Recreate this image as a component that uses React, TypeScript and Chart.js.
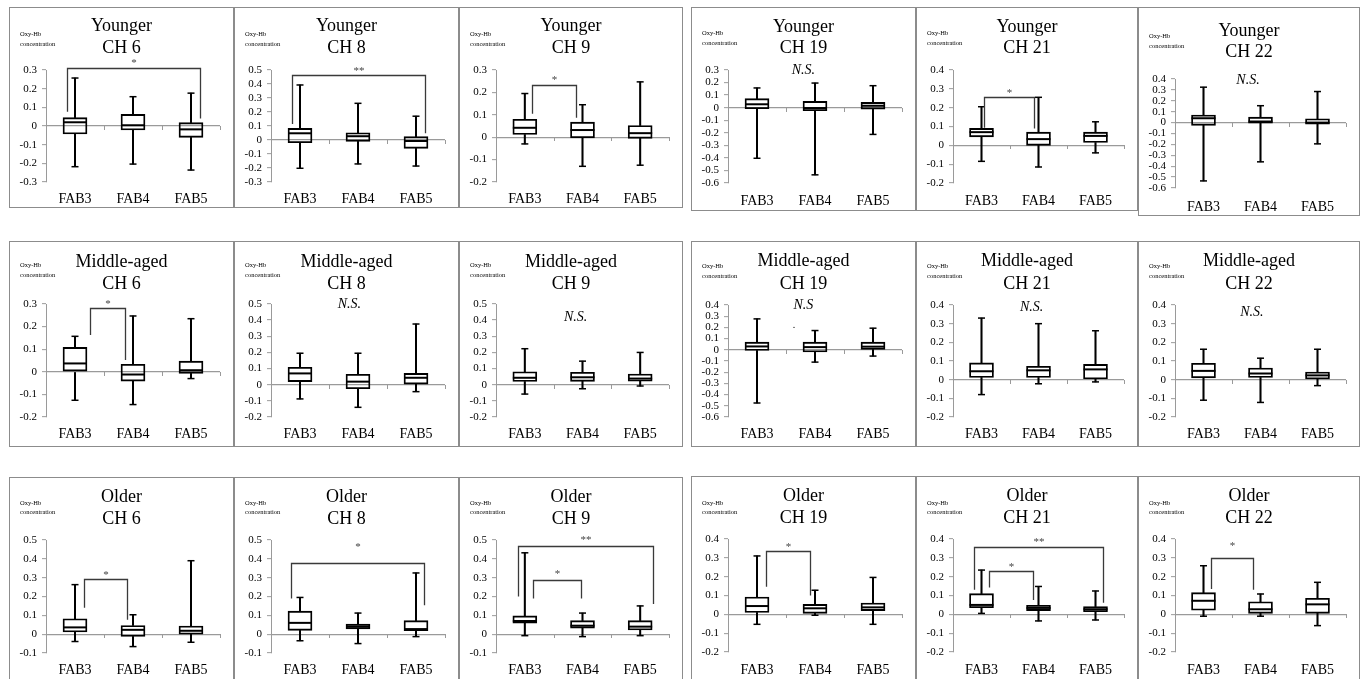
import React, { useEffect, useRef } from 'react';
import { Chart, registerables } from 'chart.js';

Chart.register(...registerables);

const FONT = '"Liberation Serif", "Times New Roman", serif';
const AXIS_GRAY = '#9a9a9a';

// ---------------- data ----------------
const categories = ['FAB3', 'FAB4', 'FAB5'];
const groupNames = ['Younger', 'Middle-aged', 'Older'];
const channelNames = ['CH 6', 'CH 8', 'CH 9', 'CH 19', 'CH 21', 'CH 22'];
const yAxisNote = ['Oxy-Hb', 'concentration'];

// five-number summaries [min, q1, median, q3, max] for FAB3, FAB4, FAB5
const youngerCH6 = [[-0.218, -0.043, 0.02, 0.045, 0.257], [-0.204, -0.021, 0.004, 0.062, 0.157], [-0.236, -0.061, -0.018, 0.018, 0.176]];
const youngerCH8 = [[-0.202, -0.019, 0.048, 0.083, 0.393], [-0.171, -0.01, 0.027, 0.052, 0.262], [-0.186, -0.06, -0.007, 0.024, 0.17]];
const youngerCH9 = [[-0.03, 0.012, 0.042, 0.08, 0.195], [-0.13, -0.003, 0.032, 0.067, 0.145], [-0.125, -0.005, 0.018, 0.052, 0.247]];
const youngerCH19 = [[-0.403, -0.008, 0.027, 0.072, 0.157], [-0.535, -0.024, -0.003, 0.05, 0.196], [-0.213, -0.011, 0.015, 0.042, 0.175]];
const youngerCH21 = [[-0.085, 0.045, 0.07, 0.09, 0.205], [-0.115, 0.0, 0.033, 0.07, 0.255], [-0.04, 0.015, 0.05, 0.07, 0.125]];
const youngerCH22 = [[-0.535, -0.025, 0.04, 0.07, 0.325], [-0.36, -0.005, 0.01, 0.05, 0.155], [-0.195, -0.015, 0.0, 0.035, 0.285]];

const middleCH6 = [[-0.126, 0.0, 0.037, 0.108, 0.157], [-0.145, -0.041, -0.012, 0.033, 0.247], [-0.03, -0.007, 0.007, 0.047, 0.235]];
const middleCH8 = [[-0.088, 0.019, 0.07, 0.108, 0.195], [-0.14, -0.025, 0.019, 0.065, 0.195], [-0.043, 0.004, 0.043, 0.07, 0.376]];
const middleCH9 = [[-0.058, 0.02, 0.043, 0.08, 0.223], [-0.025, 0.021, 0.046, 0.077, 0.146], [-0.008, 0.022, 0.038, 0.066, 0.2]];
const middleCH19 = [[-0.475, -0.006, 0.03, 0.068, 0.276], [-0.11, -0.02, 0.024, 0.068, 0.172], [-0.056, 0.003, 0.028, 0.068, 0.193]];
const middleCH21 = [[-0.08, 0.012, 0.045, 0.09, 0.33], [-0.022, 0.012, 0.05, 0.072, 0.3], [-0.012, 0.004, 0.055, 0.082, 0.262]];
const middleCH22 = [[-0.11, 0.01, 0.047, 0.088, 0.163], [-0.122, 0.012, 0.033, 0.062, 0.115], [-0.032, 0.004, 0.023, 0.041, 0.163]];

const olderCH6 = [[-0.039, 0.012, 0.036, 0.082, 0.263], [-0.066, -0.012, 0.023, 0.046, 0.103], [-0.043, 0.0, 0.018, 0.043, 0.39]];
const olderCH8 = [[-0.035, 0.02, 0.06, 0.122, 0.195], [-0.05, 0.028, 0.04, 0.053, 0.112], [-0.013, 0.018, 0.027, 0.072, 0.325]];
const olderCH9 = [[-0.008, 0.058, 0.07, 0.097, 0.432], [-0.013, 0.032, 0.045, 0.072, 0.112], [-0.008, 0.022, 0.04, 0.072, 0.15]];
const olderCH19 = [[-0.053, 0.01, 0.044, 0.092, 0.31], [-0.005, 0.005, 0.032, 0.053, 0.128], [-0.053, 0.02, 0.037, 0.06, 0.196]];
const olderCH21 = [[0.005, 0.035, 0.05, 0.11, 0.235], [-0.035, 0.02, 0.034, 0.048, 0.148], [-0.03, 0.014, 0.027, 0.041, 0.124]];
const olderCH22 = [[-0.01, 0.022, 0.072, 0.115, 0.258], [-0.01, 0.005, 0.027, 0.067, 0.108], [-0.06, 0.005, 0.053, 0.085, 0.17]];

// y-axis ranges [min, max] per channel
const youngerRanges = [[-0.3, 0.3], [-0.3, 0.5], [-0.2, 0.3], [-0.6, 0.3], [-0.2, 0.4], [-0.6, 0.4]];
const middleRanges = [[-0.2, 0.3], [-0.2, 0.5], [-0.2, 0.5], [-0.6, 0.4], [-0.2, 0.4], [-0.2, 0.4]];
const olderRanges = [[-0.1, 0.5], [-0.1, 0.5], [-0.1, 0.5], [-0.2, 0.4], [-0.2, 0.4], [-0.2, 0.4]];

// significance brackets: [fromCat, toCat, barLevel, leftLegEnd, rightLegEnd, mark, markLevel]
type Bracket = [number, number, number, number, number, string, number];
const youngerSig: Bracket[][] = [
  [[-0.13, 2.15, 0.31, 0.077, 0.04, '*', 0.354]],
  [[-0.13, 2.15, 0.464, 0.114, 0.048, '**', 0.512]],
  [[0.12, 0.88, 0.233, 0.105, 0.087, '*', 0.267]],
  [],
  [[0.04, 0.92, 0.255, 0.093, 0.09, '*', 0.296]],
  [],
];
const middleSig: Bracket[][] = [
  [[0.25, 0.86, 0.284, 0.163, 0.052, '*', 0.315]],
  [], [], [], [], [],
];
const olderSig: Bracket[][] = [
  [[0.16, 0.89, 0.295, 0.14, 0.077, '*', 0.33]],
  [[-0.15, 2.14, 0.378, 0.19, 0.153, '*', 0.48]],
  [[-0.12, 2.22, 0.47, 0.2, 0.16, '**', 0.517], [0.14, 0.97, 0.29, 0.19, 0.19, '*', 0.334]],
  [[0.15, 0.91, 0.336, 0.147, 0.1, '*', 0.372]],
  [[-0.13, 2.14, 0.355, 0.13, 0.062, '**', 0.398], [0.13, 0.91, 0.23, 0.143, 0.076, '*', 0.265]],
  [[0.14, 0.87, 0.3, 0.135, 0.13, '*', 0.38]],
];

// non-significance notes: [category position, level, text]
type Note = [number, number, string];
const youngerNotes: Note[][] = [[], [], [], [[0.8, 0.3, 'N.S.']], [], [[0.78, 0.39, 'N.S.']]];
const middleNotes: Note[][] = [[], [[0.85, 0.5, 'N.S.']], [[0.88, 0.42, 'N.S.']], [[0.8, 0.4, 'N.S'], [0.64, 0.217, '.']], [[0.88, 0.39, 'N.S.']], [[0.85, 0.36, 'N.S.']]];
const olderNotes: Note[][] = [[], [], [], [], [], []];

// ---------------- layout ----------------
const colX = [9, 234, 459, 691, 916, 1138];
const colW = [225, 225, 224, 225, 222, 222];
// [panelTop, panelHeight, plotTop, plotBottom, title1, title2, oxy1, oxy2, labelBaseline]
const rowGeomLeft = [
  [7, 201, 70, 182, 31, 53, 36, 46, 204],
  [241, 206, 304, 417, 267, 289, 267, 277, 439],
  [477, 212, 540, 653, 502, 524, 505, 514, 675],
];
const rowGeomRight = [
  [7, 204, 70, 183, 32, 53, 35, 45, 206],
  [241, 206, 305, 417, 266, 289, 268, 278, 439],
  [476, 212, 539, 652, 501, 523, 505, 514, 675],
];
const youngerCH22Geom = [7, 209, 79, 188, 36, 57, 38, 48, 212];

interface PanelSpec {
  key: string;
  group: string;
  channel: string;
  data: number[][];
  range: number[];
  sig: Bracket[];
  notes: Note[];
  x: number;
  w: number;
  geom: number[];
}

const groupData = [
  [youngerCH6, youngerCH8, youngerCH9, youngerCH19, youngerCH21, youngerCH22],
  [middleCH6, middleCH8, middleCH9, middleCH19, middleCH21, middleCH22],
  [olderCH6, olderCH8, olderCH9, olderCH19, olderCH21, olderCH22],
];
const groupRanges = [youngerRanges, middleRanges, olderRanges];
const groupSig = [youngerSig, middleSig, olderSig];
const groupNotes = [youngerNotes, middleNotes, olderNotes];

const panels: PanelSpec[] = [];
for (let r = 0; r < 3; r++) {
  for (let c = 0; c < 6; c++) {
    let geom = c < 3 ? rowGeomLeft[r] : rowGeomRight[r];
    if (r === 0 && c === 5) geom = youngerCH22Geom;
    panels.push({
      key: `${r}-${c}`,
      group: groupNames[r],
      channel: channelNames[c],
      data: groupData[r][c],
      range: groupRanges[r][c],
      sig: groupSig[r][c],
      notes: groupNotes[r][c],
      x: colX[c],
      w: colW[c],
      geom,
    });
  }
}

function fmtTick(v: number): string {
  if (Math.abs(v) < 1e-9) return '0';
  return (Math.round(v * 10) / 10).toFixed(1);
}

function BoxPanel({ spec }: { spec: PanelSpec }) {
  const ref = useRef<HTMLCanvasElement | null>(null);
  const [top, h, plotTop, plotBottom, t1, t2, o1, o2, labelBase] = spec.geom;
  const w = spec.w;

  useEffect(() => {
    const canvas = ref.current;
    if (!canvas) return;
    const plotTopRel = plotTop - top;
    const plotBottomRel = plotBottom - top;
    const xAxisH = h - plotBottomRel;
    const labelSize = 14;
    const labelPad = labelBase - plotBottom - 0.92 * labelSize;
    const axisLeft = 37;
    const plotRight = 213;

    const d = spec.data;

    const decor = {
      id: 'panelDecor',
      beforeDatasetsDraw(chart: any) {
        const ctx = chart.ctx;
        const xs = chart.scales.x;
        const ys = chart.scales.y;
        const y0 = Math.round(ys.getPixelForValue(0));
        ctx.save();
        ctx.strokeStyle = AXIS_GRAY;
        ctx.lineWidth = 1;
        ctx.beginPath();
        for (const v of [0.5, 1.5, 2.5]) {
          const px = Math.round(xs.getPixelForValue(v)) + 0.5;
          ctx.moveTo(px, y0);
          ctx.lineTo(px, y0 + 4);
        }
        ctx.stroke();
        ctx.restore();
      },
      afterDraw(chart: any) {
        const ctx = chart.ctx;
        const xs = chart.scales.x;
        const ys = chart.scales.y;
        const cx = chart.width / 2;
        ctx.save();
        ctx.fillStyle = '#000';
        ctx.textAlign = 'center';
        ctx.textBaseline = 'alphabetic';
        ctx.font = `18px ${FONT}`;
        ctx.fillText(spec.group, cx, t1 - top);
        ctx.fillText(spec.channel, cx, t2 - top);

        ctx.textAlign = 'left';
        ctx.font = `6.5px ${FONT}`;
        ctx.fillText(yAxisNote[0], 11, o1 - top);
        ctx.fillText(yAxisNote[1], 11, o2 - top);

        ctx.strokeStyle = '#3a3a3a';
        ctx.lineWidth = 1.3;
        for (const b of spec.sig) {
          const [x1, x2, lvl, l1, l2, mark, ml] = b;
          const px1 = Math.round(xs.getPixelForValue(x1)) + 0.5;
          const px2 = Math.round(xs.getPixelForValue(x2)) + 0.5;
          const py = Math.round(ys.getPixelForValue(lvl)) + 0.5;
          ctx.beginPath();
          ctx.moveTo(px1, ys.getPixelForValue(l1));
          ctx.lineTo(px1, py);
          ctx.lineTo(px2, py);
          ctx.lineTo(px2, ys.getPixelForValue(l2));
          ctx.stroke();
          ctx.font = `11px ${FONT}`;
          ctx.textAlign = 'center';
          ctx.fillStyle = '#444';
          ctx.fillText(mark, (px1 + px2) / 2, ys.getPixelForValue(ml) + 6);
        }

        ctx.fillStyle = '#000';
        for (const n of spec.notes) {
          const [nx, ny, txt] = n;
          ctx.textAlign = 'center';
          ctx.textBaseline = 'middle';
          ctx.font = txt === '.' ? `10px ${FONT}` : `italic 14px ${FONT}`;
          ctx.fillText(txt, xs.getPixelForValue(nx), ys.getPixelForValue(ny));
        }
        ctx.restore();
      },
    };

    const chart = new Chart(canvas, {
      type: 'bar',
      data: {
        labels: categories,
        datasets: [
          {
            type: 'bar',
            label: 'lower whisker',
            data: d.map((b) => [b[0], b[1]]),
            backgroundColor: '#000',
            borderWidth: 0,
            barThickness: 1.4,
            grouped: false,
            order: 5,
          } as any,
          {
            type: 'bar',
            label: 'upper whisker',
            data: d.map((b) => [b[3], b[4]]),
            backgroundColor: '#000',
            borderWidth: 0,
            barThickness: 1.4,
            grouped: false,
            order: 5,
          } as any,
          {
            type: 'bar',
            label: 'box',
            data: d.map((b) => [b[1], b[3]]),
            backgroundColor: 'rgba(255,255,255,0)',
            borderColor: '#000',
            borderWidth: 1.2,
            borderSkipped: false,
            barThickness: 24,
            grouped: false,
            order: 3,
          } as any,
          {
            type: 'line',
            label: 'median',
            data: d.map((b) => b[2]),
            showLine: false,
            pointStyle: 'line',
            pointRadius: 12,
            pointHoverRadius: 12,
            pointBorderWidth: 2,
            pointBorderColor: '#000',
            borderColor: '#000',
            order: 1,
          } as any,
          {
            type: 'line',
            label: 'minimum',
            data: d.map((b) => b[0]),
            showLine: false,
            pointStyle: 'line',
            pointRadius: 3.5,
            pointHoverRadius: 3.5,
            pointBorderWidth: 1.5,
            pointBorderColor: '#000',
            borderColor: '#000',
            order: 2,
          } as any,
          {
            type: 'line',
            label: 'maximum',
            data: d.map((b) => b[4]),
            showLine: false,
            pointStyle: 'line',
            pointRadius: 3.5,
            pointHoverRadius: 3.5,
            pointBorderWidth: 1.5,
            pointBorderColor: '#000',
            borderColor: '#000',
            order: 2,
          } as any,
        ],
      },
      options: {
        responsive: false,
        animation: false,
        devicePixelRatio: 1,
        events: [],
        layout: {
          padding: { top: plotTopRel, left: 0, right: w - plotRight, bottom: 0 },
        },
        plugins: {
          legend: { display: false },
          tooltip: { enabled: false },
          title: { display: false },
        },
        scales: {
          x: {
            type: 'category',
            offset: true,
            grid: { display: false, drawTicks: false },
            border: { display: false },
            ticks: {
              font: { family: FONT, size: labelSize },
              color: '#000',
              padding: labelPad,
              maxRotation: 0,
              autoSkip: false,
            },
            afterFit: (s: any) => {
              s.height = xAxisH;
            },
          },
          y: {
            type: 'linear',
            min: spec.range[0],
            max: spec.range[1],
            ticks: {
              stepSize: 0.1,
              autoSkip: false,
              font: { family: FONT, size: 11 },
              color: '#000',
              padding: 5,
              callback: (v: any) => fmtTick(Number(v)),
            },
            grid: {
              color: (c: any) => (c.tick && Math.abs(c.tick.value) < 1e-9 ? AXIS_GRAY : 'rgba(0,0,0,0)'),
              lineWidth: 1.3,
              tickColor: AXIS_GRAY,
              tickWidth: 1,
              tickLength: 4,
              drawTicks: true,
            },
            border: { display: true, color: AXIS_GRAY, width: 1 },
            afterFit: (s: any) => {
              s.width = axisLeft;
            },
          },
        },
      } as any,
      plugins: [decor],
    });
    return () => chart.destroy();
  }, [spec]);

  return (
    <>
      <canvas
        ref={ref}
        width={w}
        height={h}
        style={{ position: 'absolute', left: spec.x, top, width: w, height: h }}
      />
      <div
        style={{
          position: 'absolute',
          left: spec.x,
          top,
          width: w,
          height: h,
          boxSizing: 'border-box',
          border: '1px solid #8c8c8c',
          pointerEvents: 'none',
        }}
      />
    </>
  );
}

export default function App() {
  return (
    <div
      style={{
        position: 'absolute',
        left: 0,
        top: 0,
        width: 1360,
        height: 679,
        overflow: 'hidden',
        background: '#fff',
      }}
    >
      {panels.map((p) => (
        <BoxPanel key={p.key} spec={p} />
      ))}
    </div>
  );
}
